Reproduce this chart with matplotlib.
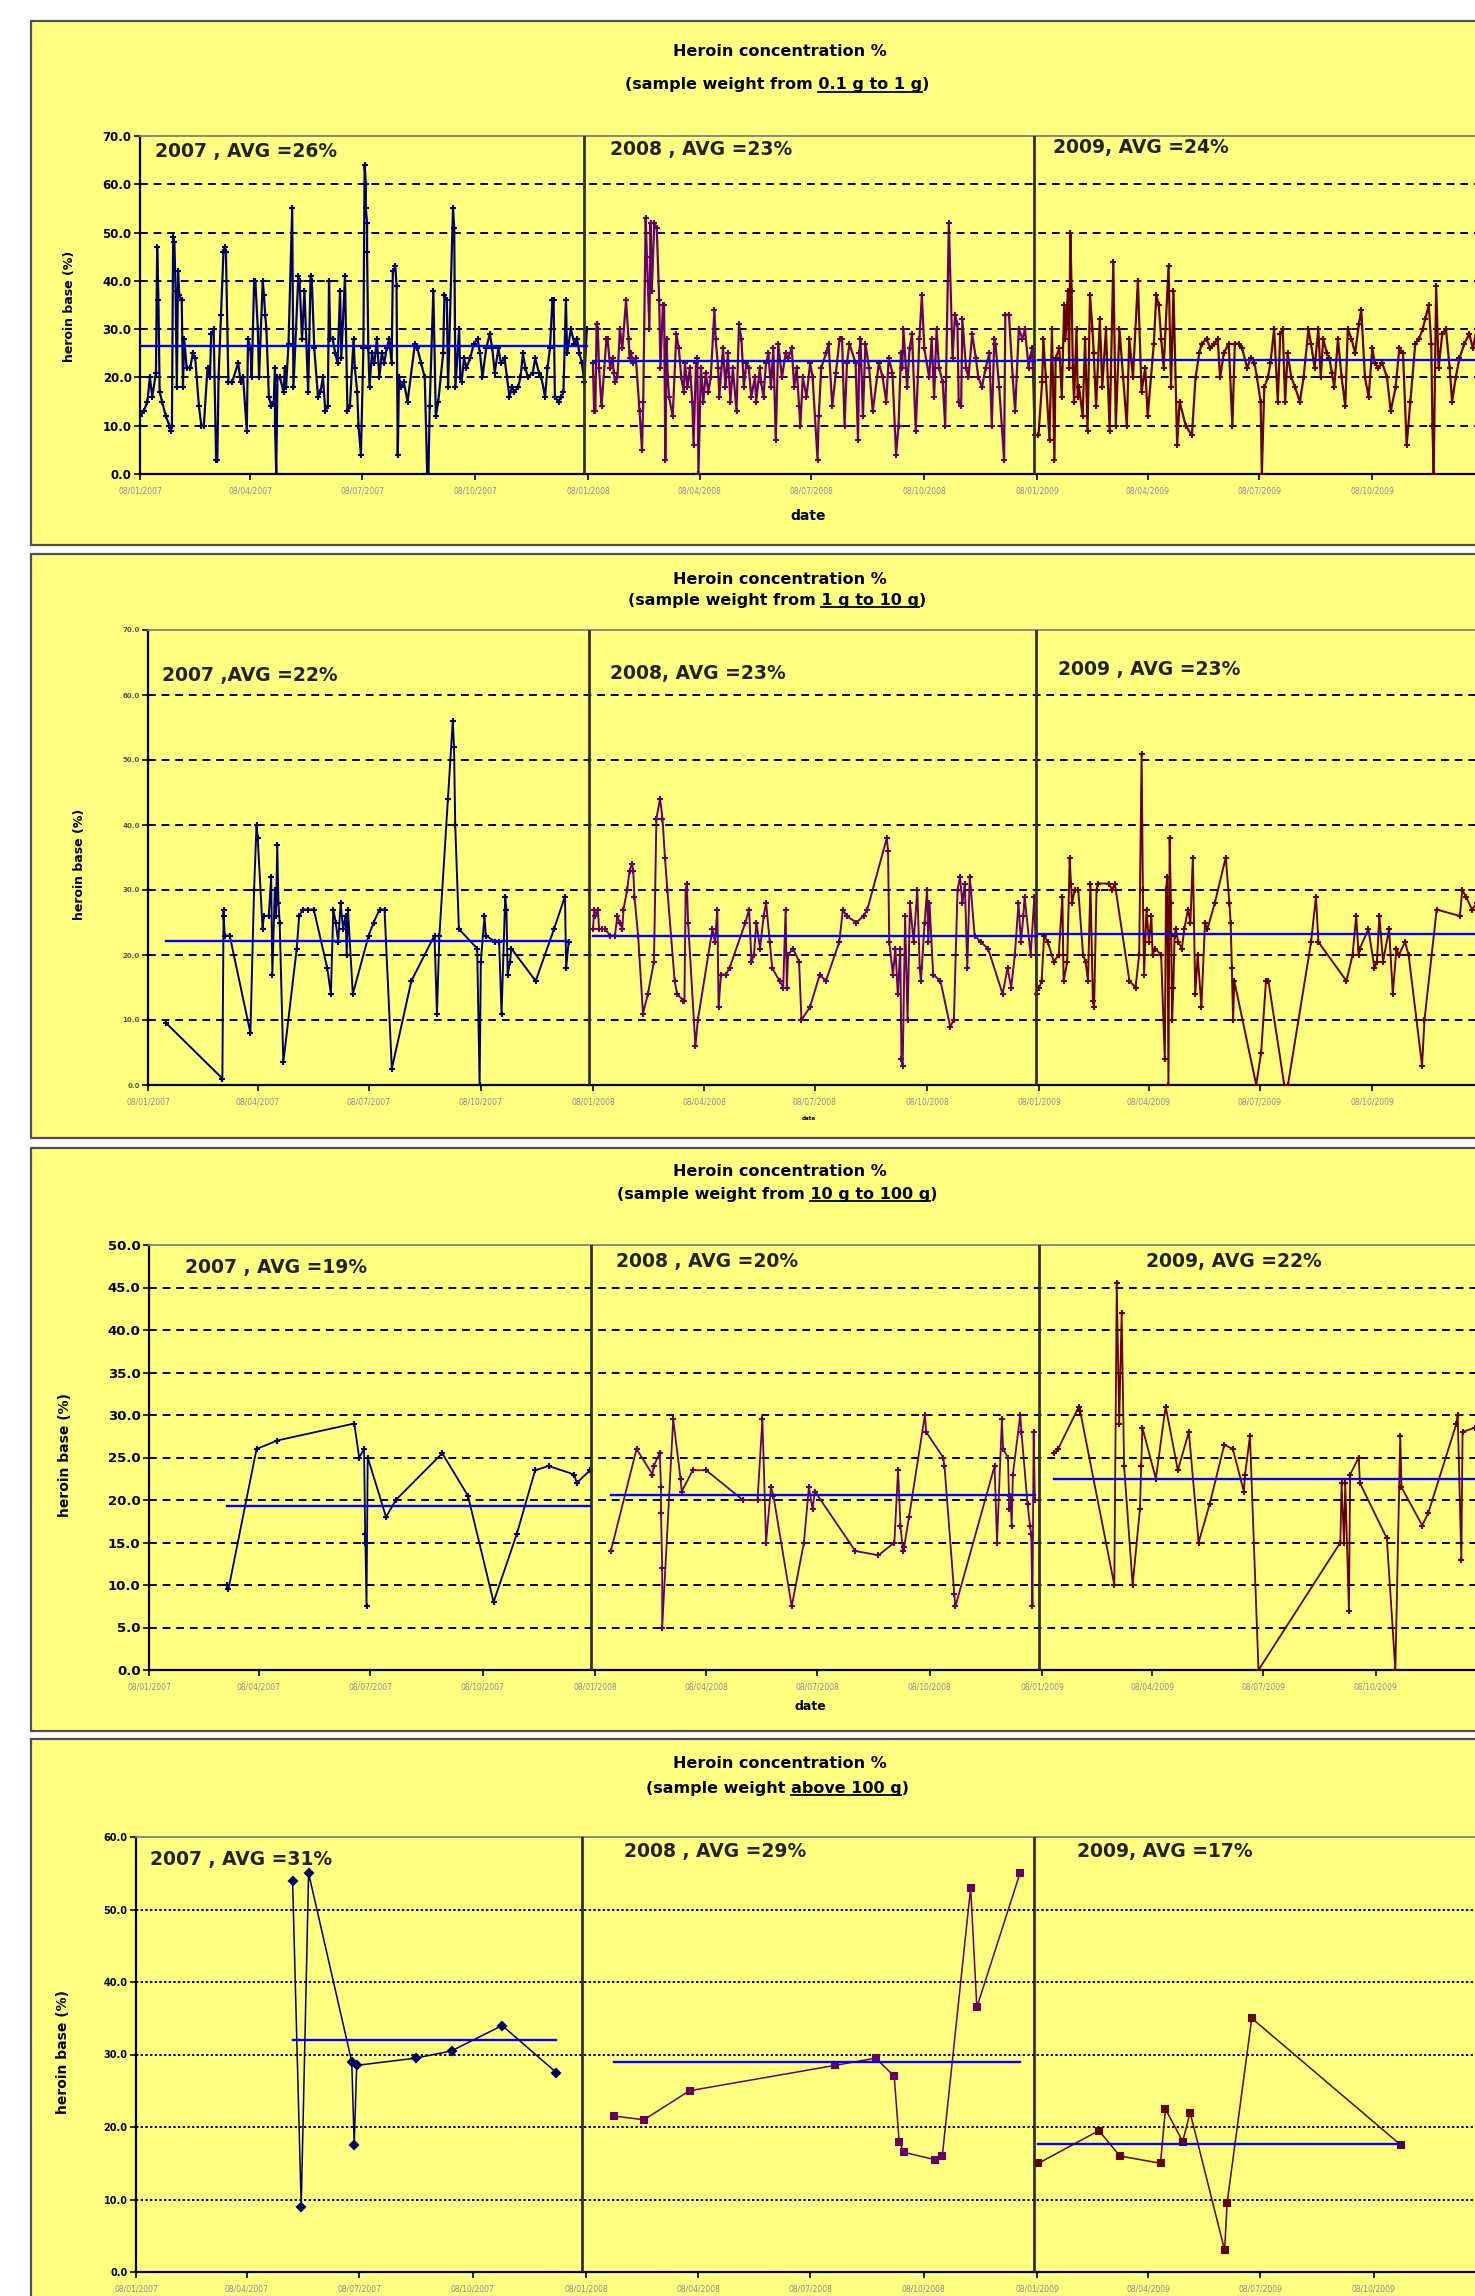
import numpy as np
import matplotlib
matplotlib.use('Agg')
import matplotlib.pyplot as plt
import matplotlib.dates as mdates
from matplotlib.lines import Line2D
from matplotlib.patches import Rectangle
from matplotlib.ticker import FormatStrFormatter

W, H = 1475, 2296

# ---- data: days after 8 Jan of each year, heroin base (%) ----
# panel 1: sample weight 0.1 g - 1 g
p1_2007_day = [0, 3, 6, 8, 10, 13, 14, 15, 16, 18,
               21, 24, 25, 26, 27, 28, 29, 30, 31, 32,
               34, 35, 36, 38, 41, 43, 45, 48, 50, 52,
               55, 57, 58, 60, 62, 63, 64, 66, 68, 69,
               70, 72, 75, 80, 82, 84, 87, 88, 90, 91,
               92, 93, 94, 96, 97, 100, 101, 102, 103, 105,
               107, 109, 110, 110, 111, 112, 114, 117, 118, 119,
               121, 124, 125, 129, 130, 132, 134, 137, 139, 140,
               142, 145, 147, 149, 151, 153, 154, 155, 157, 159,
               161, 163, 164, 167, 169, 171, 174, 175, 177, 178,
               180, 182, 183, 184, 184, 185, 185, 186, 187, 189,
               191, 193, 195, 197, 199, 201, 203, 205, 206, 208,
               209, 210, 211, 213, 215, 218, 224, 226, 229, 232,
               234, 235, 236, 239, 241, 243, 247, 248, 250, 251,
               255, 256, 257, 260, 261, 262, 264, 266, 269, 272,
               275, 277, 279, 282, 285, 287, 289, 292, 294, 297,
               299, 301, 303, 305, 308, 310, 312, 314, 316, 320,
               322, 325, 327, 330, 332, 334, 336, 337, 338, 341,
               343, 345, 347, 348, 351, 354, 356, 358, 360, 362,
               364]
p1_2007_val = [12, 13, 15, 20, 16, 21, 47, 36, 17, 15,
               12, 10, 9, 10, 49, 48, 38, 18, 42, 37,
               36, 18, 28, 22, 22, 25, 24, 14, 10, 10,
               22, 20, 29, 30, 3, 3, 20, 33, 46, 47,
               46, 19, 19, 23, 19, 20, 9, 28, 26, 20,
               30, 40, 40, 30, 20, 40, 37, 33, 30, 16,
               14, 15, 22, 10, 0, 20, 20, 17, 22, 18,
               27, 55, 18, 41, 40, 28, 38, 17, 41, 40,
               26, 16, 17, 20, 13, 14, 40, 28, 28, 25,
               23, 38, 24, 41, 13, 14, 28, 22, 17, 10,
               4, 26, 64, 60, 55, 52, 46, 26, 18, 25,
               23, 28, 20, 25, 23, 26, 28, 23, 42, 43,
               39, 4, 20, 18, 19, 15, 27, 26, 23, 20,
               0, 0, 14, 38, 12, 15, 25, 37, 36, 18,
               55, 51, 18, 30, 20, 19, 24, 22, 24, 27,
               28, 25, 20, 26, 29, 26, 21, 26, 23, 24,
               20, 16, 18, 17, 18, 20, 25, 22, 20, 21,
               24, 21, 20, 16, 22, 26, 36, 36, 16, 15,
               16, 17, 36, 25, 30, 27, 28, 25, 23, 19,
               30]
p1_2008_day = [4, 5, 6, 7, 8, 9, 11, 15, 16, 18,
               20, 21, 22, 24, 26, 28, 31, 33, 34, 35,
               37, 39, 42, 44, 45, 47, 48, 50, 51, 52,
               54, 56, 58, 59, 61, 62, 63, 64, 65, 66,
               69, 72, 74, 76, 78, 79, 81, 83, 85, 86,
               88, 89, 90, 92, 94, 96, 98, 100, 103, 104,
               106, 107, 110, 112, 114, 116, 118, 121, 123, 125,
               127, 129, 131, 133, 136, 137, 140, 141, 143, 145,
               147, 149, 151, 153, 155, 158, 161, 163, 166, 168,
               170, 172, 173, 175, 178, 181, 183, 187, 188, 190,
               194, 196, 199, 202, 205, 207, 209, 211, 213, 218,
               220, 221, 222, 224, 226, 229, 232, 237, 240, 243,
               245, 248, 251, 253, 255, 256, 257, 260, 262, 264,
               267, 270, 272, 274, 278, 280, 282, 284, 286, 289,
               291, 294, 297, 299, 301, 302, 304, 305, 308, 310,
               313, 316, 318, 321, 324, 327, 329, 331, 332, 335,
               339, 340, 343, 346, 348, 351, 354, 356, 359, 360,
               362, 364]
p1_2008_val = [23, 13, 13, 31, 30, 22, 14, 28, 28, 22,
               24, 21, 19, 20, 30, 26, 36, 28, 24, 25,
               23, 24, 13, 5, 15, 53, 45, 30, 52, 38,
               52, 51, 36, 22, 35, 35, 3, 28, 20, 16,
               12, 29, 26, 20, 17, 23, 18, 22, 15, 6,
               23, 24, 0, 22, 15, 21, 17, 20, 34, 28,
               22, 16, 26, 18, 25, 15, 22, 13, 31, 28,
               18, 23, 22, 16, 20, 15, 22, 19, 16, 23,
               25, 18, 26, 7, 27, 20, 25, 24, 26, 18,
               22, 14, 10, 20, 16, 23, 20, 3, 12, 22,
               25, 27, 14, 21, 28, 28, 10, 23, 27, 23,
               7, 25, 28, 12, 27, 22, 13, 23, 20, 15,
               24, 21, 4, 10, 25, 22, 30, 18, 26, 29,
               9, 28, 37, 26, 20, 28, 16, 30, 22, 19,
               10, 52, 24, 33, 31, 15, 14, 32, 22, 20,
               29, 24, 20, 18, 22, 25, 10, 28, 27, 18,
               3, 33, 33, 20, 13, 30, 28, 30, 22, 24,
               26, 8]
p1_2009_day = [1, 4, 5, 7, 10, 12, 14, 15, 18, 20,
               22, 23, 25, 26, 27, 28, 29, 30, 32, 33,
               34, 37, 39, 41, 43, 45, 46, 48, 51, 53,
               56, 59, 62, 64, 67, 70, 73, 75, 78, 82,
               85, 88, 90, 95, 97, 99, 101, 103, 107, 109,
               111, 114, 116, 121, 126, 129, 132, 134, 138, 141,
               144, 147, 149, 152, 156, 159, 161, 164, 167, 171,
               174, 177, 179, 182, 183, 185, 188, 190, 193, 196,
               198, 200, 202, 204, 207, 210, 214, 217, 221, 223,
               226, 229, 231, 233, 236, 238, 240, 242, 245, 248,
               251, 253, 256, 259, 262, 264, 267, 270, 273, 275,
               278, 281, 285, 288, 292, 295, 298, 301, 304, 308,
               311, 314, 316, 319, 321, 322, 323, 325, 327, 330,
               333, 336, 338, 341, 344, 348, 352, 355, 358, 362]
p1_2009_val = [8, 19, 28, 20, 7, 30, 3, 24, 26, 16,
               35, 28, 38, 22, 50, 38, 22, 15, 30, 16,
               18, 12, 28, 9, 37, 30, 25, 14, 32, 18,
               30, 9, 44, 10, 30, 20, 10, 28, 20, 40,
               17, 22, 12, 27, 37, 35, 28, 22, 43, 18,
               38, 6, 15, 10, 8, 20, 25, 27, 28, 26,
               27, 28, 20, 25, 27, 10, 27, 27, 26, 22,
               24, 23, 20, 15, 0, 18, 20, 23, 30, 15,
               29, 30, 15, 25, 20, 18, 15, 20, 30, 27,
               22, 30, 20, 28, 25, 24, 21, 18, 28, 20,
               14, 30, 28, 25, 31, 34, 20, 16, 26, 23,
               22, 23, 20, 13, 18, 26, 25, 6, 15, 27,
               28, 30, 32, 35, 27, 10, 0, 39, 22, 29,
               30, 22, 15, 20, 24, 27, 29, 26, 30, 31]

# panel 2: sample weight 1 g - 10 g
p2_2007_day = [15, 61, 62, 62, 63, 67, 84, 87, 89, 90,
               94, 95, 99, 101, 102, 104, 105, 106, 107, 108,
               111, 122, 124, 127, 131, 136, 147, 150, 152, 154,
               156, 158, 160, 162, 163, 164, 168, 181, 185, 190,
               194, 200, 216, 235, 237, 239, 246, 250, 251, 252,
               255, 270, 272, 273, 276, 277, 285, 288, 290, 293,
               294, 295, 297, 298, 318, 333, 342, 343, 345]
p2_2007_val = [9.5, 1, 27, 26, 23, 23, 8, 30, 40, 38,
               24, 26, 26, 32, 17, 30, 26, 37, 28, 25,
               3.5, 21, 26, 27, 27, 27, 18, 14, 27, 25,
               22, 28, 24, 26, 20, 27, 14, 23, 25, 27,
               27, 2.5, 16, 23, 11, 23, 44, 56, 52, 40,
               24, 21, 0, 19, 26, 23, 22, 22, 11, 29,
               27, 17, 19, 21, 16, 24, 29, 18, 22]
p2_2008_day = [0, 1, 2, 4, 5, 7, 10, 14, 18, 20,
               22, 24, 25, 28, 30, 32, 33, 34, 37, 41,
               45, 50, 52, 55, 57, 59, 61, 67, 69, 74,
               75, 76, 77, 78, 84, 86, 98, 100, 102, 103,
               105, 109, 112, 125, 128, 130, 132, 134, 137, 140,
               142, 145, 147, 153, 156, 158, 159, 160, 164, 169,
               171, 178, 186, 191, 202, 205, 208, 216, 222, 225,
               241, 242, 243, 246, 248, 250, 252, 253, 254, 256,
               258, 260, 263, 266, 268, 269, 272, 274, 275, 276,
               279, 285, 293, 296, 299, 301, 303, 305, 307, 309,
               310, 313, 318, 324, 336, 340, 343, 346, 349, 351,
               353, 354, 359, 362, 364]
p2_2008_val = [24, 27, 26, 27, 24, 24, 24, 23, 23, 26,
               25, 24, 27, 30, 33, 34, 33, 29, 23, 11,
               14, 19, 41, 44, 41, 35, 30, 16, 14, 13,
               13, 30, 31, 25, 6, 10, 24, 22, 27, 12,
               17, 17, 18, 25, 27, 19, 20, 25, 21, 26,
               28, 22, 18, 16, 15, 27, 15, 20, 21, 19,
               10, 12, 17, 16, 22, 27, 26, 25, 26, 27,
               38, 36, 22, 17, 21, 14, 21, 4, 3, 26,
               10, 28, 22, 30, 18, 16, 25, 30, 22, 28,
               17, 16, 9, 10, 30, 32, 28, 31, 18, 32,
               30, 23, 22, 21, 14, 18, 15, 20, 28, 22,
               26, 29, 20, 29, 14]
p2_2009_day = [0, 2, 4, 7, 12, 16, 19, 20, 23, 25,
               26, 27, 29, 32, 36, 38, 40, 42, 44, 45,
               47, 48, 57, 60, 62, 74, 79, 82, 84, 85,
               86, 88, 90, 92, 93, 95, 100, 103, 104, 105,
               106, 107, 108, 109, 110, 111, 112, 114, 117, 119,
               122, 124, 126, 128, 130, 133, 136, 138, 144, 153,
               156, 157, 158, 159, 160, 178, 182, 186, 188, 201,
               204, 223, 227, 229, 252, 257, 260, 262, 263, 270,
               275, 277, 279, 282, 287, 290, 293, 295, 300, 303,
               314, 316, 326, 345, 347, 350, 355, 359]
p2_2009_val = [15, 16, 23, 22, 19, 20, 29, 16, 19, 35,
               31, 28, 30, 30, 20, 19, 16, 31, 13, 12,
               30, 31, 31, 30, 31, 16, 15, 20, 51, 30,
               17, 27, 22, 26, 20, 21, 20, 4, 30, 32,
               0, 38, 28, 10, 15, 23, 24, 22, 21, 24,
               27, 25, 35, 14, 20, 12, 25, 24, 28, 35,
               28, 25, 18, 10, 16, 0, 5, 16, 16, 0,
               0, 22, 29, 22, 16, 20, 26, 20, 21, 24,
               18, 19, 26, 19, 24, 14, 21, 20, 22, 20,
               3, 10, 27, 26, 30, 29, 27, 28]

# panel 3: sample weight 10 g - 100 g
p3_2007_day = [64, 65, 88, 105, 168, 172, 176, 177, 177, 178,
               179, 194, 202, 240, 261, 282, 301, 316, 327, 348,
               350, 361]
p3_2007_val = [10, 9.5, 26, 27, 29, 25, 26, 15, 16, 7.5,
               25, 18, 20, 25.5, 20.5, 8, 16, 23.5, 24, 23,
               22, 23.5]
p3_2008_day = [13, 34, 47, 48, 53, 54, 54, 55, 55, 64,
               70, 71, 80, 91, 121, 133, 137, 140, 144, 146,
               161, 171, 175, 178, 180, 213, 232, 245, 248, 250,
               252, 253, 257, 270, 271, 285, 286, 294, 295, 327,
               329, 333, 334, 338, 339, 340, 341, 342, 348, 349,
               354, 356, 357, 358, 359, 360]
p3_2008_val = [14, 26, 23, 24, 25.5, 21.5, 18.5, 12, 5, 29.5,
               22.5, 21, 23.5, 23.5, 20, 20, 29.5, 15, 21.5, 20.5,
               7.5, 15, 21.5, 19, 21, 14, 13.5, 15, 23.5, 17,
               14, 14.5, 18, 30, 28, 25, 24, 9, 7.5, 24,
               15, 29.5, 26, 25, 19, 20.5, 17, 23, 30, 28,
               19.5, 17, 16, 7.5, 28, 20]
p3_2009_day = [10, 13, 30, 31, 59, 61, 63, 65, 67, 74,
               80, 81, 82, 93, 101, 111, 120, 128, 137, 149,
               156, 165, 166, 170, 177, 244, 245, 247, 248, 251,
               252, 259, 260, 282, 289, 293, 294, 311, 316, 339,
               340, 343, 344, 354]
p3_2009_val = [25.5, 26, 31, 30.5, 10, 45.5, 29, 42, 24, 10,
               19, 24, 28.5, 22.5, 31, 23.5, 28, 15, 19.5, 26.5,
               26, 21, 23, 27.5, 0, 15, 22, 15, 22, 7,
               23, 25, 22, 15.5, 0, 27.5, 21.5, 17, 18.5, 29,
               30, 13, 28, 28.5]

# panel 4: sample weight above 100 g
p4_2007_day = [127, 134, 140, 175, 177, 179, 227, 256, 297, 341]
p4_2007_val = [54, 9, 55, 29, 17.5, 28.5, 29.5, 30.5, 34, 27.5]
p4_2008_day = [23, 47, 84, 202, 235, 250, 254, 258, 283, 289, 312, 317, 352]
p4_2008_val = [21.5, 21, 25, 28.5, 29.5, 27, 18, 16.5, 15.5, 16, 53, 36.5, 55]
p4_2009_day = [1, 50, 67, 100, 104, 118, 124, 152, 154, 174, 295]
p4_2009_val = [15, 19.5, 16, 15, 22.5, 18, 22, 3, 9.5, 35, 17.5]

years = [2007, 2008, 2009]
avg_p1 = [26.5, 23.5, 23.7]
avg_p2 = [22.2, 22.9, 23.3]
avg_p3 = [19.3, 20.6, 22.5]
avg_p4 = [32.0, 29.0, 17.6]
labels_p1 = ['2007 , AVG =26%', '2008 , AVG =23%', '2009, AVG =24%']
labels_p2 = ['2007 ,AVG =22%', '2008, AVG =23%', '2009 , AVG =23%']
labels_p3 = ['2007 , AVG =19%', '2008 , AVG =20%', '2009, AVG =22%']
labels_p4 = ['2007 , AVG =31%', '2008 , AVG =29%', '2009, AVG =17%']
ranges = [('(sample weight from ', '0.1 g to 1 g', ')'),
          ('(sample weight from ', '1 g to 10 g', ')'),
          ('(sample weight from ', '10 g to 100 g', ')'),
          ('(sample weight ', 'above 100 g', ')')]

line_colors = ['#000066', '#660066', '#660000']
yellow = '#FFFF80'


def fx(x):
    return x / W


def fy(y):
    return 1 - y / H


fig = plt.figure(figsize=(W / 100, H / 100), dpi=100)
fig.patch.set_facecolor('white')
plt.rcParams['font.family'] = ['DejaVu Sans']

panels = [
    dict(frame=(21, 545), box=(140, 136, 1484, 474), ymax=70, step=10,
         series=[(p1_2007_day, p1_2007_val), (p1_2008_day, p1_2008_val), (p1_2009_day, p1_2009_val)],
         avg=avg_p1, labels=labels_p1, lab_pos=[(155, 152), (610, 150), (1053, 147)],
         title_y=(52, 85), ylab=(70, 306, 9), date=(808, 516, 10), ytick_fs=8.5, ytick_col='black',
         markers=['+', '+', '+'], ms=5, lw=1.6, grid=(0, (4, 3))),
    dict(frame=(554, 1138), box=(148, 630, 1483, 1085), ymax=70, step=10,
         series=[(p2_2007_day, p2_2007_val), (p2_2008_day, p2_2008_val), (p2_2009_day, p2_2009_val)],
         avg=avg_p2, labels=labels_p2, lab_pos=[(162, 675), (610, 673), (1058, 670)],
         title_y=(580, 601), ylab=(80, 864, 9), date=(809, 1118, 4), ytick_fs=5, ytick_col='#555555',
         markers=['+', '+', '+'], ms=5, lw=1.4, grid=(0, (4, 3))),
    dict(frame=(1148, 1731), box=(149, 1245, 1487, 1670), ymax=50, step=5,
         series=[(p3_2007_day, p3_2007_val), (p3_2008_day, p3_2008_val), (p3_2009_day, p3_2009_val)],
         avg=avg_p3, labels=labels_p3, lab_pos=[(185, 1267), (616, 1262), (1146, 1262)],
         title_y=(1172, 1194), ylab=(65, 1455, 10), date=(810, 1706, 9), ytick_fs=9.5, ytick_col='black',
         markers=['+', '+', '+'], ms=5, lw=1.3, grid=(0, (4, 3))),
    dict(frame=(1739, 2330), box=(136, 1837, 1486, 2272), ymax=60, step=10,
         series=[(p4_2007_day, p4_2007_val), (p4_2008_day, p4_2008_val), (p4_2009_day, p4_2009_val)],
         avg=avg_p4, labels=labels_p4, lab_pos=[(150, 1860), (624, 1851), (1077, 1851)],
         title_y=(1764, 1788), ylab=(63, 2052, 10), date=None, ytick_fs=7, ytick_col='black',
         markers=['D', 's', 's'], ms=4.5, lw=1.1, grid=(0, (1.2, 1.2))),
]

renderer = fig.canvas.get_renderer()

for k, p in enumerate(panels):
    top, bot = p['frame']
    fig.add_artist(Rectangle((fx(31), fy(bot)), fx(1540) - fx(31), fy(top) - fy(bot),
                             transform=fig.transFigure, facecolor=yellow,
                             edgecolor='#505050', lw=1.6, zorder=-5))

    l, t, r, b = p['box']
    ax = fig.add_axes([fx(l), fy(b), fx(r) - fx(l), fy(t) - fy(b)])
    ax.patch.set_alpha(0)

    for i, (days, vals) in enumerate(p['series']):
        d = np.datetime64(f'{years[i]}-01-08') + np.array(days)
        ax.plot(d, vals, color=line_colors[i], lw=p['lw'], marker=p['markers'][i],
                ms=p['ms'], mew=1.5, zorder=3)
        ax.plot([d[0], d[-1]], [p['avg'][i]] * 2, color='#0000FF', lw=1.7, zorder=5)

    ax.set_xlim(np.datetime64('2007-01-08'), np.datetime64('2010-01-07'))
    ax.set_ylim(0, p['ymax'])
    yt = np.arange(0, p['ymax'] + 0.01, p['step'])
    ax.set_yticks(yt)
    ax.yaxis.set_major_formatter(FormatStrFormatter('%.1f'))
    ax.xaxis.set_major_locator(mdates.MonthLocator(bymonth=(1, 4, 7, 10), bymonthday=8))
    ax.xaxis.set_major_formatter(mdates.DateFormatter('%d/%m/%Y'))

    for v in yt[1:-1]:
        ax.axhline(v, color='black', lw=1.4, ls=p['grid'], zorder=1)
    for dd in ['2008-01-05', '2009-01-05']:
        ax.axvline(np.datetime64(dd), color='#303030', lw=2, zorder=4)

    ax.spines['right'].set_visible(False)
    ax.spines['top'].set_color('#808080')
    ax.spines['top'].set_linewidth(1.3)
    ax.spines['left'].set_linewidth(1.6)
    ax.spines['bottom'].set_linewidth(1.6)
    ax.tick_params(axis='y', direction='out', length=4, width=1.2,
                   labelsize=p['ytick_fs'], labelcolor=p['ytick_col'], pad=2)
    ax.tick_params(axis='x', direction='out', length=4, width=1.2,
                   labelsize=5.5, labelcolor='#8a8aa0', pad=5)
    for lbl in ax.get_yticklabels():
        lbl.set_fontweight('bold')

    for txt, (x, y) in zip(p['labels'], p['lab_pos']):
        fig.text(fx(x), fy(y), txt, ha='left', va='center', fontsize=13.5,
                 fontweight='bold', color='#222222')

    # titles
    ty1, ty2 = p['title_y']
    fig.text(fx(780), fy(ty1), 'Heroin concentration %', ha='center', va='center',
             fontsize=11.5, fontweight='bold')
    pre, under, post = ranges[k]
    sub = fig.text(fx(777), fy(ty2), pre + under + post, ha='center', va='center',
                   fontsize=11.5, fontweight='bold')
    bb = sub.get_window_extent(renderer)
    tmp = fig.text(0, 0, pre + under, fontsize=11.5, fontweight='bold')
    w_to = tmp.get_window_extent(renderer).width
    tmp.set_text(under)
    w_under = tmp.get_window_extent(renderer).width
    tmp.remove()
    x1 = bb.x0 + w_to
    x0 = x1 - w_under
    fig.add_artist(Line2D([x0 / W, x1 / W], [(bb.y0 + 1) / H] * 2,
                          transform=fig.transFigure, color='black', lw=1.3))

    xl, yl, fs = p['ylab']
    fig.text(fx(xl), fy(yl), 'heroin base (%)', rotation=90, ha='center', va='center',
             fontsize=fs, fontweight='bold')
    if p['date'] is not None:
        xd, yd, fsd = p['date']
        fig.text(fx(xd), fy(yd), 'date', ha='center', va='center', fontsize=fsd,
                 fontweight='bold')

fig.savefig('out.png', dpi=100, facecolor='white')
